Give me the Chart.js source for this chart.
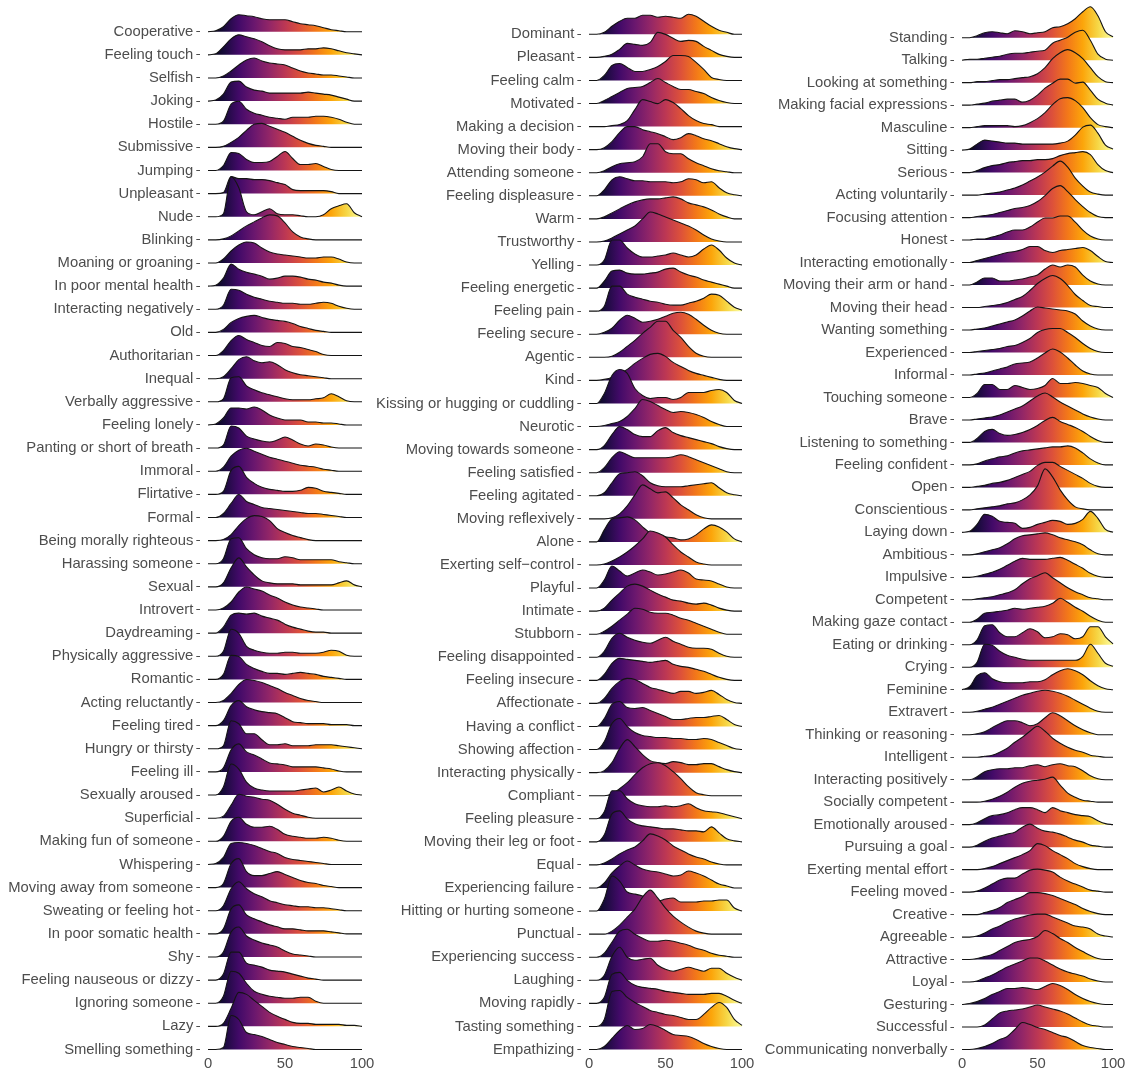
<!DOCTYPE html>
<html>
<head>
<meta charset="utf-8">
<title>Ridgeline densities of rated attributes</title>
<script src="https://cdn.jsdelivr.net/npm/chart.js@4.4.1/dist/chart.umd.min.js"></script>
<style>
  html, body { margin: 0; padding: 0; background: #ffffff; }
  #wrap { position: relative; width: 1129px; height: 1068px; overflow: hidden; background: #ffffff; }
  .panel { position: absolute; top: 0; height: 1068px; }
  .panel canvas { display: block; }
</style>
</head>
<body>
<div id="wrap">
  <div class="panel" style="left:0px;width:375px"><canvas id="ridgeLeft" width="375" height="1068"></canvas></div>
  <div class="panel" style="left:372px;width:385px"><canvas id="ridgeMiddle" width="385" height="1068"></canvas></div>
  <div class="panel" style="left:752px;width:377px"><canvas id="ridgeRight" width="377" height="1068"></canvas></div>
</div>
<script>
// Rating scale positions at which each density is sampled
const gridX = [0, 5, 10, 15, 20, 25, 30, 35, 40, 45, 50, 55, 60, 65, 70, 75, 80, 85, 90, 95, 100];
const xTicks = [0, 50, 100];

// ---- Left column ----
const leftLabels = [
  "Cooperative", "Feeling touch", "Selfish", "Joking", "Hostile", "Submissive", "Jumping", "Unpleasant",
  "Nude", "Blinking", "Moaning or groaning", "In poor mental health", "Interacting negatively", "Old",
  "Authoritarian", "Inequal", "Verbally aggressive", "Feeling lonely", "Panting or short of breath",
  "Immoral", "Flirtative", "Formal", "Being morally righteous", "Harassing someone", "Sexual", "Introvert",
  "Daydreaming", "Physically aggressive", "Romantic", "Acting reluctantly", "Feeling tired",
  "Hungry or thirsty", "Feeling ill", "Sexually aroused", "Superficial", "Making fun of someone",
  "Whispering", "Moving away from someone", "Sweating or feeling hot", "In poor somatic health", "Shy",
  "Feeling nauseous or dizzy", "Ignoring someone", "Lazy", "Smelling something"
];
const leftDensity = [
  [0,1,5,13,17,16,15,13,12,12,12,10,8,7,6,4,2,1,0,0,0],
  [0,1,8,16,20,18,16,13,9,6,5,5,5,6,6,7,6,4,2,1,0],
  [0,0,2,7,13,18,20,17,15,14,13,10,7,5,4,3,3,2,1,0,0],
  [0,1,7,19,20,14,11,10,8,8,8,8,8,9,8,7,6,4,2,0,0],
  [0,0,3,20,23,15,11,9,7,6,5,7,7,7,8,8,7,5,2,0,0],
  [0,0,1,5,10,17,23,24,21,18,15,11,7,4,2,1,0,0,0,0,0],
  [0,0,5,18,17,11,8,8,9,14,19,12,6,6,7,4,1,0,0,0,0],
  [0,0,1,17,15,15,14,14,13,11,9,4,3,3,3,3,2,0,0,0,0],
  [0,0,3,40,29,5,2,5,8,3,2,2,1,0,0,2,8,11,13,4,0],
  [0,0,1,4,9,14,18,22,25,24,17,8,3,1,0,0,0,0,0,0,0],
  [0,0,4,12,18,21,20,15,11,9,8,7,6,5,5,6,6,4,1,0,0],
  [0,1,8,22,17,14,12,10,7,8,10,10,9,7,6,4,3,1,0,0,0],
  [0,0,4,20,19,15,12,10,8,7,6,6,5,5,6,7,6,3,1,0,0],
  [0,0,3,10,14,16,17,15,13,12,11,9,6,4,2,1,0,0,0,0,0],
  [0,0,5,15,20,16,13,10,9,13,12,9,8,6,4,1,0,0,0,0,0],
  [0,0,2,10,19,22,18,16,17,14,9,6,4,3,2,1,0,0,0,0,0],
  [0,0,3,24,25,16,12,9,7,5,3,2,2,2,3,4,8,5,1,0,0],
  [0,1,7,17,17,16,18,15,10,7,5,5,5,3,3,2,2,1,0,0,0],
  [0,0,3,22,20,12,9,7,6,8,11,8,4,2,4,3,1,0,0,0,0],
  [0,0,4,15,21,23,20,17,14,12,10,8,6,5,4,2,1,0,0,0,0],
  [0,0,3,24,28,17,11,7,5,4,3,3,4,7,6,3,2,1,0,0,0],
  [0,0,4,14,23,16,13,10,9,8,7,6,5,4,4,3,2,1,0,0,0],
  [0,0,1,6,15,22,25,24,20,12,8,5,3,1,0,0,0,0,0,0,0],
  [0,0,5,25,26,15,9,6,5,5,7,6,4,4,4,4,4,2,1,0,0],
  [0,0,4,19,29,20,12,6,4,3,3,3,2,2,2,2,2,4,6,2,0],
  [0,0,2,8,18,23,21,19,15,12,8,5,3,2,1,0,0,0,0,0,0],
  [0,0,6,18,20,19,20,17,15,13,9,6,4,2,1,1,0,0,0,0,0],
  [0,0,5,27,23,10,6,4,3,3,4,4,3,3,3,4,6,5,1,0,0],
  [0,0,5,24,23,15,11,8,6,6,5,6,7,6,5,3,2,1,0,0,0],
  [0,0,2,9,18,23,22,20,17,14,10,7,4,2,1,0,0,0,0,0,0],
  [0,0,5,20,25,19,16,14,13,12,8,4,3,2,2,2,1,1,1,0,0],
  [0,0,3,28,25,15,15,9,4,4,5,3,3,3,4,4,4,3,2,1,0],
  [0,0,4,22,28,20,17,13,9,8,7,5,5,5,5,4,3,1,0,0,0],
  [0,0,8,31,26,13,7,5,4,4,4,4,5,6,7,3,5,8,4,1,0],
  [0,0,2,13,24,22,21,19,18,14,9,5,3,1,0,0,0,0,0,0,0],
  [0,0,5,20,24,17,14,14,15,12,7,5,4,3,3,4,3,1,0,0,0],
  [0,1,7,21,22,21,19,16,13,11,7,5,4,3,2,1,0,0,0,0,0],
  [0,0,4,24,29,16,12,12,14,16,13,10,7,5,4,2,1,0,0,0,0],
  [0,0,5,22,29,22,17,14,10,8,6,5,4,4,3,3,2,1,0,0,0],
  [0,0,5,25,29,19,15,12,9,7,5,5,4,3,3,3,2,1,0,0,0],
  [0,0,5,25,30,21,17,14,12,10,6,3,2,1,0,0,0,0,0,0,0],
  [0,0,6,28,28,17,15,13,10,9,8,6,4,2,1,0,0,0,0,0,0],
  [0,0,7,32,30,20,12,9,7,6,5,5,6,6,2,0,0,0,0,0,0],
  [0,0,3,18,34,32,26,20,14,10,7,4,3,3,2,2,2,2,1,1,0],
  [0,0,2,34,30,17,15,13,10,7,5,3,2,1,0,0,0,0,0,0,0]
];

// ---- Middle column ----
const middleLabels = [
  "Dominant", "Pleasant", "Feeling calm", "Motivated", "Making a decision", "Moving their body",
  "Attending someone", "Feeling displeasure", "Warm", "Trustworthy", "Yelling", "Feeling energetic",
  "Feeling pain", "Feeling secure", "Agentic", "Kind", "Kissing or hugging or cuddling", "Neurotic",
  "Moving towards someone", "Feeling satisfied", "Feeling agitated", "Moving reflexively", "Alone",
  "Exerting self\u2212control", "Playful", "Intimate", "Stubborn", "Feeling disappointed",
  "Feeling insecure", "Affectionate", "Having a conflict", "Showing affection", "Interacting physically",
  "Compliant", "Feeling pleasure", "Moving their leg or foot", "Equal", "Experiencing failure",
  "Hitting or hurting someone", "Punctual", "Experiencing success", "Laughing", "Moving rapidly",
  "Tasting something", "Empathizing"
];
const middleDensity = [
  [0,0,2,8,13,16,16,19,19,17,18,17,16,20,18,13,8,4,2,0,0],
  [0,0,1,3,8,14,13,12,15,25,23,19,16,17,16,11,7,3,1,0,0],
  [0,0,5,15,17,13,9,9,11,14,19,25,25,24,18,11,3,1,0,0,0],
  [0,0,3,7,11,15,16,17,21,25,21,17,14,14,12,10,6,3,1,0,0],
  [0,0,0,1,2,6,17,27,25,23,27,24,18,11,6,3,2,0,0,0,0],
  [0,0,2,8,17,23,23,20,18,16,13,10,12,16,14,11,9,6,3,1,0],
  [0,0,2,6,9,10,11,16,29,29,21,19,19,14,10,7,4,2,1,0,0],
  [0,0,6,16,19,17,15,15,14,14,14,13,14,17,16,13,14,8,3,1,0],
  [0,0,2,6,10,14,17,19,20,20,21,22,20,16,14,12,9,5,2,0,0],
  [0,0,1,4,8,12,16,23,30,28,25,22,19,16,12,7,3,1,0,0,0],
  [0,0,5,25,25,17,11,8,8,9,10,12,10,8,10,16,20,15,7,2,0],
  [0,0,7,17,18,15,14,14,15,16,19,20,16,13,11,8,6,4,2,0,0],
  [0,0,5,25,25,17,14,12,10,9,7,6,6,8,10,13,17,16,10,4,1],
  [0,0,2,6,14,19,16,12,13,15,18,21,22,20,15,9,4,1,0,0,0],
  [0,0,0,1,5,11,17,24,30,36,36,27,20,11,4,1,0,0,0,0,0],
  [0,0,1,3,7,11,17,22,26,27,24,18,14,10,7,5,3,1,0,0,0],
  [0,0,10,28,34,30,15,8,5,6,6,4,6,11,11,11,13,14,11,3,0],
  [0,0,1,3,5,10,18,27,25,21,17,14,15,14,12,9,5,2,0,0,0],
  [0,0,4,15,23,20,15,13,13,19,22,17,14,12,10,8,6,3,1,0,0],
  [0,0,5,15,21,18,15,15,15,15,15,16,18,16,13,10,7,4,1,0,0],
  [0,0,3,13,22,23,24,20,13,10,9,9,9,10,11,12,13,8,3,1,0],
  [0,0,0,1,5,13,24,34,30,26,27,21,14,9,4,1,0,0,0,0,0],
  [0,0,12,23,24,25,22,15,9,6,5,4,2,3,7,13,17,15,10,3,0],
  [0,0,1,4,8,13,19,26,34,32,28,20,13,8,3,1,0,0,0,0,0],
  [0,0,8,22,17,12,15,18,16,13,14,16,18,15,9,8,7,4,1,0,0],
  [0,0,3,11,18,25,27,25,21,17,14,11,10,8,7,8,6,3,1,0,0],
  [0,0,3,8,14,20,26,25,22,21,21,19,16,14,11,8,5,2,0,0,0],
  [0,0,6,19,24,20,17,15,14,17,20,16,13,10,9,9,8,4,1,0,0],
  [0,0,6,17,22,21,20,19,18,19,20,16,14,13,11,9,6,3,1,0,0],
  [0,0,5,15,22,25,24,20,16,14,12,10,12,12,10,11,13,9,4,1,0],
  [0,0,8,22,25,19,18,19,16,13,10,7,7,8,9,9,10,11,7,2,0],
  [0,0,8,26,31,23,17,14,13,12,12,11,11,10,10,11,10,7,4,1,0],
  [0,0,2,10,24,33,26,18,12,10,9,11,10,8,8,9,9,6,3,1,0],
  [0,0,0,2,7,13,21,28,32,33,30,24,17,9,3,1,0,0,0,0,0],
  [0,0,7,28,28,20,15,13,12,12,13,12,13,15,11,8,7,6,4,2,0],
  [0,0,7,28,31,23,18,16,15,14,13,13,12,11,11,10,15,9,3,1,0],
  [0,0,2,6,11,15,18,24,31,29,25,19,15,11,8,6,3,1,0,0,0],
  [0,0,5,15,22,27,23,19,17,16,14,12,13,17,15,12,8,4,2,0,0],
  [0,0,12,35,30,19,17,15,12,10,12,13,9,9,9,10,10,11,11,3,0],
  [0,0,0,3,9,17,25,37,44,36,26,18,12,7,3,1,0,0,0,0,0],
  [0,0,4,15,26,28,23,19,16,16,17,16,14,12,9,7,4,2,1,0,0],
  [0,0,5,24,33,23,20,21,22,15,11,9,11,13,11,9,12,12,7,3,0],
  [0,0,6,29,31,23,18,16,15,14,12,11,10,9,9,9,10,10,7,3,0],
  [0,0,7,35,36,29,24,20,16,14,12,11,9,7,7,12,19,24,19,7,1],
  [0,0,3,11,19,24,20,21,25,23,19,15,14,13,10,6,3,1,0,0,0]
];

// ---- Right column ----
const rightLabels = [
  "Standing", "Talking", "Looking at something", "Making facial expressions", "Masculine", "Sitting",
  "Serious", "Acting voluntarily", "Focusing attention", "Honest", "Interacting emotionally",
  "Moving their arm or hand", "Moving their head", "Wanting something", "Experienced", "Informal",
  "Touching someone", "Brave", "Listening to something", "Feeling confident", "Open", "Conscientious",
  "Laying down", "Ambitious", "Impulsive", "Competent", "Making gaze contact", "Eating or drinking",
  "Crying", "Feminine", "Extravert", "Thinking or reasoning", "Intelligent", "Interacting positively",
  "Socially competent", "Emotionally aroused", "Pursuing a goal", "Exerting mental effort",
  "Feeling moved", "Creative", "Agreeable", "Attractive", "Loyal", "Gesturing", "Successful",
  "Communicating nonverbally"
];
const rightDensity = [
  [0,0,2,5,6,5,4,7,6,4,5,6,10,11,14,19,26,31,22,6,1],
  [0,1,1,2,3,4,6,7,7,8,9,10,17,20,23,28,30,20,6,1,0],
  [0,0,1,1,2,3,3,4,5,6,9,15,24,30,33,30,24,15,6,1,0],
  [0,0,1,2,4,5,6,6,3,5,10,17,22,26,26,22,23,15,6,2,0],
  [0,0,1,2,2,2,2,1,2,5,9,15,23,29,30,27,20,10,3,1,0],
  [0,1,6,10,9,8,7,7,6,6,6,6,6,7,9,15,23,25,17,5,1],
  [0,0,2,5,7,8,10,11,12,12,13,13,14,17,19,20,21,18,8,2,0],
  [0,0,0,1,2,3,5,7,10,14,18,23,29,34,28,17,9,3,1,0,0],
  [0,0,1,2,3,5,7,9,10,12,16,22,29,32,26,18,11,5,1,0,0],
  [0,0,1,1,3,5,8,10,10,13,18,22,22,24,24,18,10,4,1,0,0],
  [0,0,2,4,6,8,10,11,13,16,16,12,10,12,13,14,15,12,6,1,0],
  [0,0,3,7,7,4,4,5,6,8,10,16,20,18,20,18,10,4,1,0,0],
  [0,0,0,1,2,3,5,8,11,17,24,29,32,29,22,13,7,2,1,0,0],
  [0,0,1,2,4,6,8,10,14,19,23,22,21,20,19,16,9,4,1,0,0],
  [0,0,1,2,3,4,6,7,10,14,20,23,24,24,20,15,9,4,1,0,0],
  [0,0,1,2,4,6,8,11,12,13,17,22,26,23,17,10,4,1,0,0,0],
  [0,0,4,13,13,8,8,12,10,8,9,12,19,14,14,15,14,12,10,4,0],
  [0,0,1,2,3,5,8,11,14,19,24,27,23,18,14,10,6,3,1,0,0],
  [0,0,4,11,13,9,7,8,10,13,17,22,25,21,18,15,11,6,2,0,0],
  [0,0,1,4,6,8,9,12,14,15,16,17,18,18,19,17,12,6,2,0,0],
  [0,0,1,2,4,5,7,10,13,16,22,25,25,21,17,13,9,4,1,0,0],
  [0,0,1,2,3,4,6,7,10,15,24,41,33,20,10,3,1,0,0,0,0],
  [0,1,8,18,16,11,10,9,4,5,8,10,12,11,8,9,13,21,14,3,0],
  [0,0,1,3,5,7,11,16,19,20,21,22,20,17,15,13,10,5,1,0,0],
  [0,0,1,3,5,8,12,16,19,18,18,18,19,20,17,13,9,4,1,0,0],
  [0,0,1,2,3,5,7,10,16,21,24,27,22,17,12,8,5,2,1,0,0],
  [0,0,3,9,10,11,12,14,13,14,15,16,19,24,20,15,11,6,2,0,0],
  [0,0,5,19,20,12,8,8,12,16,13,7,8,11,10,6,8,18,18,8,1],
  [0,0,5,23,22,16,12,10,8,7,7,7,7,7,7,7,11,23,14,4,1],
  [0,3,14,17,11,8,7,7,7,8,8,10,15,19,21,19,15,9,4,1,0],
  [0,0,1,3,5,8,11,14,17,19,21,22,21,19,16,12,8,4,1,0,0],
  [0,0,1,3,7,11,14,14,12,9,11,17,22,19,14,9,5,2,0,0,0],
  [0,0,0,1,2,5,9,15,20,26,31,26,19,14,10,7,5,2,1,0,0],
  [0,0,3,8,10,11,11,12,12,14,15,13,15,16,14,13,9,4,1,0,0],
  [0,0,0,1,3,6,10,15,19,21,22,23,25,17,9,5,2,1,0,0,0],
  [0,0,2,6,9,10,12,15,17,17,15,12,17,14,12,10,9,8,4,1,0],
  [0,0,2,6,9,11,13,15,20,23,19,16,15,13,10,7,5,2,1,0,0],
  [0,0,0,1,3,6,9,12,15,19,26,24,19,15,11,6,3,1,0,0,0],
  [0,0,1,4,8,12,14,14,18,22,23,22,20,15,11,8,5,2,1,0,0],
  [0,0,0,2,4,7,12,15,18,22,22,21,19,16,13,10,6,3,1,0,0],
  [0,0,1,4,8,11,15,18,20,22,23,23,20,17,14,11,10,8,3,1,0],
  [0,0,1,3,5,9,13,17,19,20,23,29,26,21,17,12,8,4,1,0,0],
  [0,0,1,4,7,11,15,18,21,24,24,21,17,13,10,8,6,3,1,0,0],
  [0,1,3,6,10,13,16,16,17,16,15,18,21,19,15,10,6,3,1,0,0],
  [0,0,0,2,8,14,16,17,18,20,22,20,18,16,13,9,5,2,1,0,0],
  [0,0,1,3,6,10,13,20,27,25,22,20,17,14,12,8,4,2,1,0,0]
];

// Inferno colour map, evenly spaced stops across the 0-100 rating range
const INFERNO = ['#000004', '#160b39', '#420a68', '#6a176e', '#932667', '#bc3754',
                 '#dd513a', '#f37819', '#fca50a', '#f6d746', '#fcffa4'];

const TEXT_COLOR = '#4d4d4d';
const LABEL_FONT = { family: "'Liberation Sans', Arial, Helvetica, sans-serif", size: 14.8 };
const CANVAS_H = 1068;
const X_AXIS_H = 16;
const X_MIN = -5, X_MAX = 105;

// Layout of each column inside its canvas (pixels local to that canvas)
const panels = [
  { id: 'ridgeLeft',   labels: leftLabels,   density: leftDensity,   width: 375, zeroPx: 208,   hundredPx: 362,   firstBase: 31.7, lastBase: 1049.5 },
  { id: 'ridgeMiddle', labels: middleLabels, density: middleDensity, width: 385, zeroPx: 217,   hundredPx: 370,   firstBase: 34.3, lastBase: 1049.5 },
  { id: 'ridgeRight',  labels: rightLabels,  density: rightDensity,  width: 377, zeroPx: 210,   hundredPx: 361,   firstBase: 37.7, lastBase: 1049.5 }
];

function infernoGradient(chart) {
  const xs = chart.scales.x;
  const area = chart.chartArea;
  const key = area.left + ':' + area.right;
  if (chart.$gradKey === key && chart.$grad) return chart.$grad;
  const g = chart.ctx.createLinearGradient(xs.getPixelForValue(0), 0, xs.getPixelForValue(100), 0);
  INFERNO.forEach((c, k) => g.addColorStop(k / (INFERNO.length - 1), c));
  chart.$grad = g;
  chart.$gradKey = key;
  return g;
}

function buildPanel(p) {
  const n = p.labels.length;
  const pxPerUnit = (p.hundredPx - p.zeroPx) / 100;
  const areaLeft = p.zeroPx + X_MIN * pxPerUnit;
  const areaRight = p.hundredPx + (X_MAX - 100) * pxPerUnit;
  const rowPx = (p.lastBase - p.firstBase) / (n - 1);
  const plotH = CANVAS_H - X_AXIS_H;
  const yMax = (n - 1) + p.firstBase / rowPx;
  const yMin = yMax - plotH / rowPx;

  const datasets = p.density.map((dens, i) => {
    const base = n - 1 - i;
    return {
      label: p.labels[i],
      data: gridX.map((x, k) => ({ x: x, y: base + dens[k] / rowPx })),
      fill: { value: base },
      backgroundColor: (ctx) => ctx.chart.chartArea ? infernoGradient(ctx.chart) : 'rgba(0,0,0,0)',
      borderColor: '#141414',
      borderWidth: 1.1,
      pointRadius: 0,
      cubicInterpolationMode: 'monotone',
      order: base
    };
  });

  return new Chart(document.getElementById(p.id), {
    type: 'line',
    data: { datasets },
    options: {
      responsive: false,
      animation: false,
      events: [],
      layout: { padding: { left: 0, right: p.width - areaRight, top: 0, bottom: 0 } },
      plugins: { legend: { display: false }, tooltip: { enabled: false } },
      scales: {
        x: {
          type: 'linear',
          min: X_MIN,
          max: X_MAX,
          afterBuildTicks: (s) => { s.ticks = xTicks.map(v => ({ value: v })); },
          ticks: { font: LABEL_FONT, color: TEXT_COLOR, padding: 1, maxRotation: 0, autoSkip: false },
          grid: { drawOnChartArea: false, drawTicks: true, tickLength: 2, color: 'rgba(0,0,0,0)' },
          border: { display: false },
          afterFit: (s) => { s.height = X_AXIS_H; s.paddingLeft = 0; s.paddingRight = 0; }
        },
        y: {
          type: 'linear',
          min: yMin,
          max: yMax,
          afterBuildTicks: (s) => { s.ticks = p.labels.map((_, i) => ({ value: n - 1 - i })); },
          ticks: {
            font: LABEL_FONT,
            color: TEXT_COLOR,
            padding: 3,
            autoSkip: false,
            callback: (v) => p.labels[n - 1 - Math.round(v)]
          },
          grid: { drawOnChartArea: false, drawTicks: true, tickLength: 4, color: TEXT_COLOR, lineWidth: 1 },
          border: { display: false },
          afterFit: (s) => { s.width = areaLeft; s.paddingTop = 0; s.paddingBottom = 0; }
        }
      }
    }
  });
}

panels.forEach(buildPanel);
</script>
</body>
</html>
